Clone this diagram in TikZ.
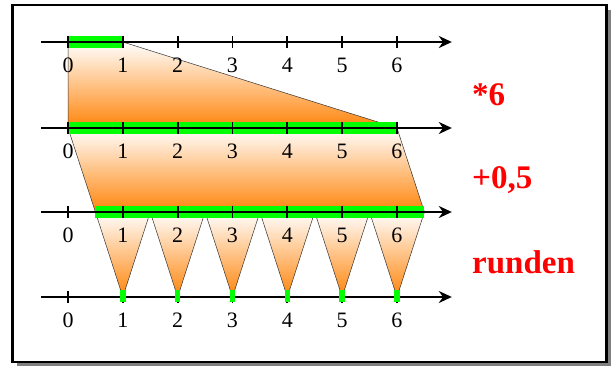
\documentclass[tikz,border=0pt]{standalone}
\usepackage{fontspec}
\setmainfont{Liberation Serif}
\usetikzlibrary{arrows.meta}

\definecolor{barGreen}{RGB}{0,255,0}
\definecolor{fillOrange}{RGB}{255,132,10}
\definecolor{labelRed}{RGB}{255,0,0}
\definecolor{shadowGray}{RGB}{128,128,128}

\begin{document}
\begin{tikzpicture}[
    x=1pt, y=-1pt,
    axis/.style={line width=2pt, -{Stealth[length=13pt, width=12pt]}},
    tick/.style={line width=1.8pt},
    bar/.style={line width=12pt, draw=barGreen},
    hit/.style={line width=5.5pt, draw=barGreen},
    wedge/.style={draw=black!80, line width=0.5pt, top color=white, bottom color=fillOrange},
    num/.style={font=\fontsize{22}{26}\selectfont, anchor=base, inner sep=0pt},
    oplabel/.style={font=\fontsize{33}{40}\selectfont\bfseries, text=labelRed, anchor=base west, inner sep=0pt}
]

\useasboundingbox (0,0) rectangle (612,367);

% frame with shadow
\fill[shadowGray] (17,10) rectangle (610.5,365.5);
\draw[line width=2.5pt, fill=white] (12.5,5) rectangle (606.5,362);

\begin{scope}[shift={(68,0)}, x=54.83pt]

% number lines
\foreach \r/\y in {1/42, 2/128, 3/212, 4/297} {
    \coordinate (s\r) at (-0.49,\y);
    \coordinate (e\r) at (7.0,\y);
    \foreach \k in {0,...,6}
        \coordinate (t\r\k) at (\k,\y);
}
\foreach \k in {1,...,7}
    \coordinate (m\k) at (\k-0.5,212);

% orange areas
\draw[wedge] (t10) -- (t11) -- (t26) -- (t20) -- cycle;
\draw[wedge] (t20) -- (t26) -- (m7) -- (m1) -- cycle;
\foreach \k [count=\n from 2] in {1,...,6}
    \draw[wedge] (m\k) -- (t4\k) -- (m\n) -- cycle;

% green intervals
\draw[bar] (t10) -- (t11);
\draw[bar] (t20) -- (t26);
\draw[bar] (m1) -- (m7);

% axes and ticks
\foreach \r in {1,...,4} {
    \draw[axis] (s\r) -- (e\r);
    \foreach \k in {0,...,6}
        \draw[tick] ([yshift=6pt]t\r\k) -- ([yshift=-6pt]t\r\k);
}

% rounded values
\foreach \k in {1,...,6}
    \draw[hit] ([yshift=7pt]t4\k) -- ([yshift=-5pt]t4\k);

% numbers
\foreach \r in {1,...,4}
    \foreach \k in {0,...,6}
        \node[num] (n\r\k) at ([yshift=-30pt]t\r\k) {\k};

\end{scope}

\node[oplabel] (times) at (472,105) {*6};
\node[oplabel] (plus) at (472,188) {+0,5};
\node[oplabel] (round) at (472,273) {runden};

\end{tikzpicture}
\end{document}
